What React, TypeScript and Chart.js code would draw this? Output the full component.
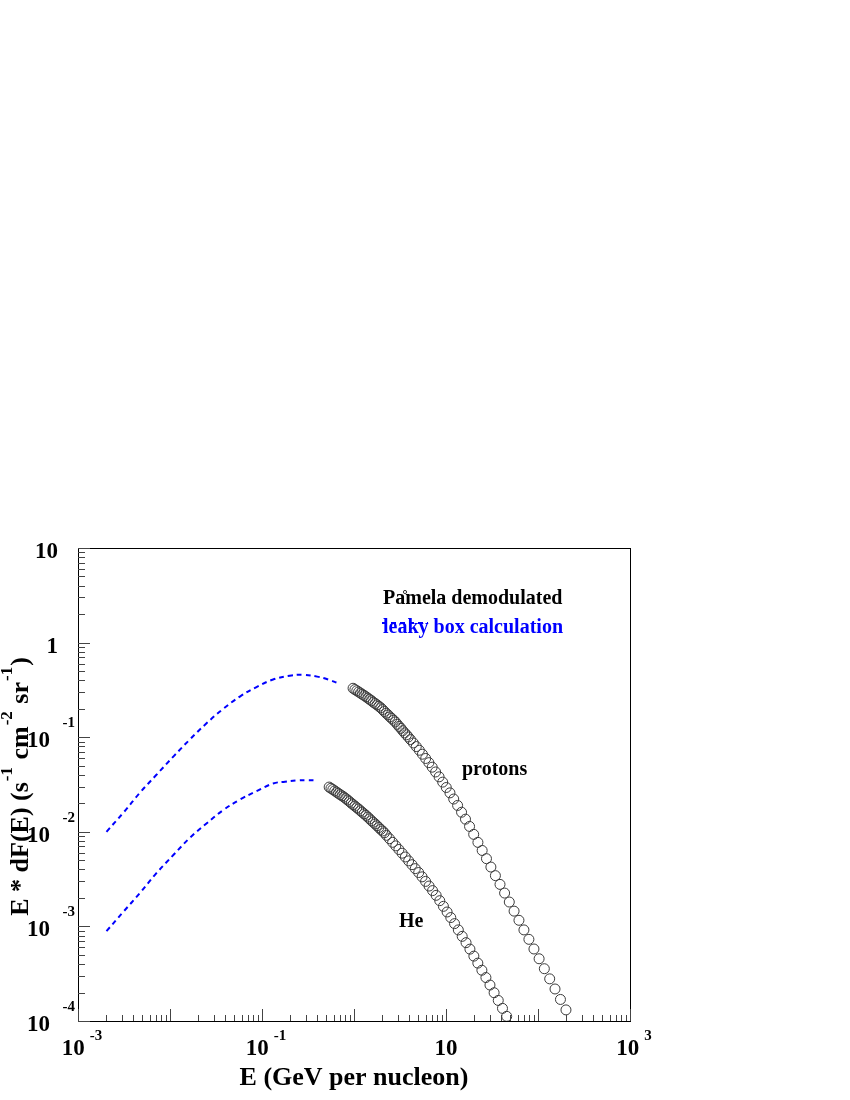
import React, { useEffect, useRef } from "react";
import { Chart, registerables } from "chart.js";

Chart.register(...registerables);

// ---- Data (E in GeV per nucleon, flux E*dF(E) in s^-1 cm^-2 sr^-1) ----
const protonE = [
  0.977, 1.023, 1.072, 1.122, 1.175, 1.23, 1.288, 1.349, 1.413, 1.479, 1.549,
  1.622, 1.698, 1.778, 1.862, 1.95, 2.042, 2.138, 2.239, 2.344, 2.455, 2.57,
  2.692, 2.818, 2.951, 3.09, 3.236, 3.388, 3.548, 3.715, 3.89,
  4.111, 4.416, 4.753, 5.129, 5.546, 6.012, 6.516, 7.079, 7.709, 8.414, 9.204,
  10.07, 11.04, 12.13, 13.37, 14.76, 16.29, 18.03, 20.0, 22.23, 24.72, 27.54,
  30.76, 34.43, 38.64, 43.35, 48.75, 54.95, 62.09, 70.31, 79.62, 90.36, 102.8,
  117.2, 134.0, 153.1, 175.4, 201.4,
];
const protonFlux = [
  0.329, 0.319, 0.31, 0.301, 0.293, 0.284, 0.276, 0.268, 0.259, 0.251, 0.243,
  0.234, 0.227, 0.22, 0.212, 0.205, 0.196, 0.187, 0.179, 0.172, 0.164, 0.158,
  0.151, 0.145, 0.137, 0.13, 0.124, 0.117, 0.111, 0.106, 0.1005,
  0.0944, 0.0869, 0.0796, 0.0728, 0.0661, 0.0596, 0.0538, 0.0482, 0.0429,
  0.0381, 0.0335, 0.0294, 0.0258, 0.0222, 0.019, 0.0161, 0.0136, 0.0114,
  0.0094, 0.00773, 0.00635, 0.0052, 0.00424, 0.00344, 0.00278, 0.00225,
  0.00181, 0.00145, 0.00116, 0.000918, 0.00073, 0.000577, 0.000455, 0.000357,
  0.000279, 0.000218, 0.000169, 0.000131,
];
const heliumE = [
  0.537, 0.562, 0.589, 0.617, 0.646, 0.676, 0.708, 0.741, 0.776, 0.813, 0.851,
  0.891, 0.933, 0.977, 1.023, 1.072, 1.122, 1.175, 1.23, 1.288, 1.349, 1.413,
  1.479, 1.549, 1.622, 1.698, 1.778, 1.862, 1.95, 2.042, 2.138,
  2.254, 2.432, 2.63, 2.844, 3.076, 3.334, 3.614, 3.926, 4.266, 4.634, 5.047,
  5.495, 5.998, 6.546, 7.145, 7.816, 8.551, 9.376, 10.28, 11.27, 12.39, 13.61,
  15.0, 16.52, 18.2, 20.09, 22.18, 24.55, 27.16, 30.06, 33.34, 36.98, 41.11,
  45.71,
];
const heliumFlux = [
  0.0297, 0.0288, 0.028, 0.0271, 0.0263, 0.0255, 0.0247, 0.024, 0.0233, 0.0225,
  0.0217, 0.0209, 0.0201, 0.0194, 0.0187, 0.018, 0.0174, 0.0167, 0.0161,
  0.0155, 0.0149, 0.0143, 0.0137, 0.0131, 0.0126, 0.0121, 0.0116, 0.0111,
  0.0106, 0.0102, 0.00975,
  0.00918, 0.00845, 0.00774, 0.0071, 0.0065, 0.00594, 0.00542, 0.00493,
  0.00449, 0.00408, 0.00371, 0.00334, 0.00299, 0.00267, 0.00239, 0.00213,
  0.00187, 0.00163, 0.00142, 0.00124, 0.00107, 0.000918, 0.000785, 0.000673,
  0.000575, 0.000485, 0.000409, 0.000344, 0.000288, 0.00024, 0.000199,
  0.000165, 0.000136, 0.000112,
];
// leaky box calculation
const lbProtonE = [
  0.00204, 0.00316, 0.00468, 0.00708, 0.011, 0.0166, 0.0251, 0.038, 0.0575,
  0.0871, 0.132, 0.2, 0.282, 0.398, 0.525, 0.676,
];
const lbProtonFlux = [
  0.01, 0.0162, 0.0257, 0.0398, 0.0631, 0.0955, 0.141, 0.2, 0.269, 0.339,
  0.407, 0.447, 0.457, 0.437, 0.407, 0.372,
];
const lbHeliumE = [
  0.00204, 0.00316, 0.00468, 0.00708, 0.011, 0.0166, 0.0251, 0.038, 0.0575,
  0.0871, 0.132, 0.178, 0.24, 0.309, 0.389,
];
const lbHeliumFlux = [
  0.000891, 0.00145, 0.00224, 0.00363, 0.00575, 0.00871, 0.0123, 0.017,
  0.0219, 0.0269, 0.0324, 0.0339, 0.0349, 0.0351, 0.0349,
];

const xMin = 1e-3;
const xMax = 1e3;
const yMin = 1e-4;
const yMax = 10;
const xTickLabels = [
  { value: 1e-3, base: "10", exp: "-3" },
  { value: 1e-1, base: "10", exp: "-1" },
  { value: 10, base: "10", exp: "" },
  { value: 1e3, base: "10", exp: "3" },
];
const yTickLabels = [
  { value: 10, base: "10", exp: "" },
  { value: 1, base: "1", exp: "" },
  { value: 1e-1, base: "10", exp: "-1" },
  { value: 1e-2, base: "10", exp: "-2" },
  { value: 1e-3, base: "10", exp: "-3" },
  { value: 1e-4, base: "10", exp: "-4" },
];
const xTitle = "E (GeV per nucleon)";
const yTitleParts = [
  { t: "E * dF(E) (s", sup: false },
  { t: "-1", sup: true },
  { t: " cm", sup: false },
  { t: "-2", sup: true },
  { t: " sr", sup: false },
  { t: "-1", sup: true },
  { t: ")", sup: false },
];
const legendPamela = "Pamela demodulated";
const legendLeaky = "leaky box calculation";
const labelProtons = "protons";
const labelHe = "He";

const SERIF = '"Liberation Serif", "Times New Roman", serif';
const BLUE = "#0000ff";

const rootAxesPlugin = {
  id: "rootAxes",
  afterDatasetsDraw(chart: any) {
    const { ctx, chartArea: a, scales } = chart;
    const xs = scales.x;
    const ys = scales.y;
    const L = Math.round(a.left);
    const R = Math.round(a.right);
    const T = Math.round(a.top);
    const B = Math.round(a.bottom);
    ctx.save();

    // frame
    ctx.strokeStyle = "#000";
    ctx.lineWidth = 1;
    ctx.strokeRect(L + 0.5, T + 0.5, R - L, B - T);

    // x ticks
    ctx.strokeStyle = "#444";
    ctx.beginPath();
    for (let d = -3; d <= 3; d++) {
      for (let m = 1; m <= 9; m++) {
        const v = m * Math.pow(10, d);
        if (v > xMax * 1.0001) continue;
        const px = Math.round(xs.getPixelForValue(v)) + 0.5;
        const len = m === 1 ? 12 : 6;
        ctx.moveTo(px, B);
        ctx.lineTo(px, B - len);
      }
    }
    // y ticks
    for (let d = -4; d <= 1; d++) {
      for (let m = 1; m <= 9; m++) {
        const v = m * Math.pow(10, d);
        if (v > yMax * 1.0001) continue;
        const py = Math.round(ys.getPixelForValue(v)) + 0.5;
        const len = m === 1 ? 12 : 7;
        ctx.moveTo(L, py);
        ctx.lineTo(L + len, py);
      }
    }
    ctx.stroke();

    ctx.fillStyle = "#000";
    ctx.textBaseline = "alphabetic";
    const baseFont = `bold 23px ${SERIF}`;
    const expFont = `bold 15px ${SERIF}`;

    // x tick labels
    for (const t of xTickLabels) {
      const px = xs.getPixelForValue(t.value);
      ctx.font = baseFont;
      const wb = ctx.measureText(t.base).width;
      if (!t.exp) {
        ctx.textAlign = "center";
        ctx.fillText(t.base, px, B + 34);
        continue;
      }
      ctx.font = expFont;
      const we = ctx.measureText(t.exp).width;
      const gap = 5;
      const total = wb + gap + we;
      const start = px + 4 - total / 2;
      ctx.textAlign = "left";
      ctx.font = baseFont;
      ctx.fillText(t.base, start, B + 34);
      ctx.font = expFont;
      ctx.fillText(t.exp, start + wb + gap, B + 19);
    }

    // y tick labels
    for (const t of yTickLabels) {
      const py = ys.getPixelForValue(t.value);
      ctx.textAlign = "right";
      if (!t.exp) {
        ctx.font = baseFont;
        ctx.fillText(t.base, L - 20, py + 10);
        continue;
      }
      ctx.font = baseFont;
      ctx.fillText(t.base, L - 28, py + 10);
      ctx.font = expFont;
      ctx.fillText(t.exp, L - 3, py - 10);
    }

    // x title
    ctx.font = `bold 26px ${SERIF}`;
    ctx.textAlign = "center";
    ctx.fillText(xTitle, (L + R) / 2, B + 64);

    // y title (rotated)
    ctx.save();
    const mainF = `bold 26px ${SERIF}`;
    const supF = `bold 17px ${SERIF}`;
    let total = 0;
    for (const p of yTitleParts) {
      ctx.font = p.sup ? supF : mainF;
      total += ctx.measureText(p.t).width + (p.sup ? 2 : 0);
    }
    ctx.translate(28, (T + B) / 2 + 2);
    ctx.rotate(-Math.PI / 2);
    ctx.textAlign = "left";
    let cx = -total / 2;
    for (const p of yTitleParts) {
      ctx.font = p.sup ? supF : mainF;
      if (p.sup) cx += 1;
      ctx.fillText(p.t, cx, p.sup ? -16 : 0);
      cx += ctx.measureText(p.t).width + (p.sup ? 1 : 0);
    }
    ctx.restore();

    // legend and annotations
    ctx.font = `bold 20px ${SERIF}`;
    ctx.textAlign = "left";
    const lx = L + 305;
    ctx.fillStyle = "#000";
    ctx.fillText(legendPamela, lx, T + 56);
    ctx.fillStyle = BLUE;
    ctx.fillText(legendLeaky, lx, T + 85);
    // legend symbols drawn over the text
    ctx.strokeStyle = "#333";
    ctx.lineWidth = 1;
    ctx.beginPath();
    ctx.arc(lx + 22, T + 44, 1.6, 0, Math.PI * 2);
    ctx.stroke();
    ctx.strokeStyle = BLUE;
    ctx.lineWidth = 2;
    ctx.setLineDash([5, 4]);
    ctx.beginPath();
    ctx.moveTo(lx - 1, T + 75);
    ctx.lineTo(lx + 45, T + 75);
    ctx.stroke();
    ctx.setLineDash([]);

    ctx.fillStyle = "#000";
    ctx.fillText(labelProtons, L + 384, T + 227);
    ctx.fillText(labelHe, L + 321, T + 379);

    ctx.restore();
  },
};

export default function App() {
  const ref = useRef<HTMLCanvasElement | null>(null);
  useEffect(() => {
    if (!ref.current) return;
    const pts = (xs: number[], ys: number[]) =>
      xs.map((x, i) => ({ x, y: ys[i] }));
    const circleStyle = {
      showLine: false,
      pointStyle: "circle",
      pointRadius: 5,
      pointBorderWidth: 1,
      pointBorderColor: "#3a3a3a",
      pointBackgroundColor: "rgba(0,0,0,0)",
      borderColor: "#3a3a3a",
      backgroundColor: "rgba(0,0,0,0)",
    };
    const lineStyle = {
      showLine: true,
      borderColor: BLUE,
      borderWidth: 2,
      borderDash: [5, 4],
      pointRadius: 0,
      tension: 0.4,
      fill: false,
    };
    const chart = new Chart(ref.current, {
      type: "scatter",
      data: {
        datasets: [
          { label: "leaky box p", data: pts(lbProtonE, lbProtonFlux), ...lineStyle } as any,
          { label: "leaky box He", data: pts(lbHeliumE, lbHeliumFlux), ...lineStyle } as any,
          { label: "protons", data: pts(protonE, protonFlux), ...circleStyle } as any,
          { label: "He", data: pts(heliumE, heliumFlux), ...circleStyle } as any,
        ],
      },
      options: {
        responsive: false,
        animation: false,
        events: [],
        layout: { padding: { left: 78, right: 220, top: 548, bottom: 79 } },
        plugins: {
          legend: { display: false },
          tooltip: { enabled: false },
        },
        scales: {
          x: { type: "logarithmic", min: xMin, max: xMax, display: false },
          y: { type: "logarithmic", min: yMin, max: yMax, display: false },
        },
      } as any,
      plugins: [rootAxesPlugin],
    });
    return () => chart.destroy();
  }, []);
  return (
    <div
      style={{
        position: "absolute",
        left: 0,
        top: 0,
        width: 850,
        height: 1100,
        background: "#fff",
      }}
    >
      <canvas ref={ref} width={850} height={1100} style={{ display: "block" }} />
    </div>
  );
}
